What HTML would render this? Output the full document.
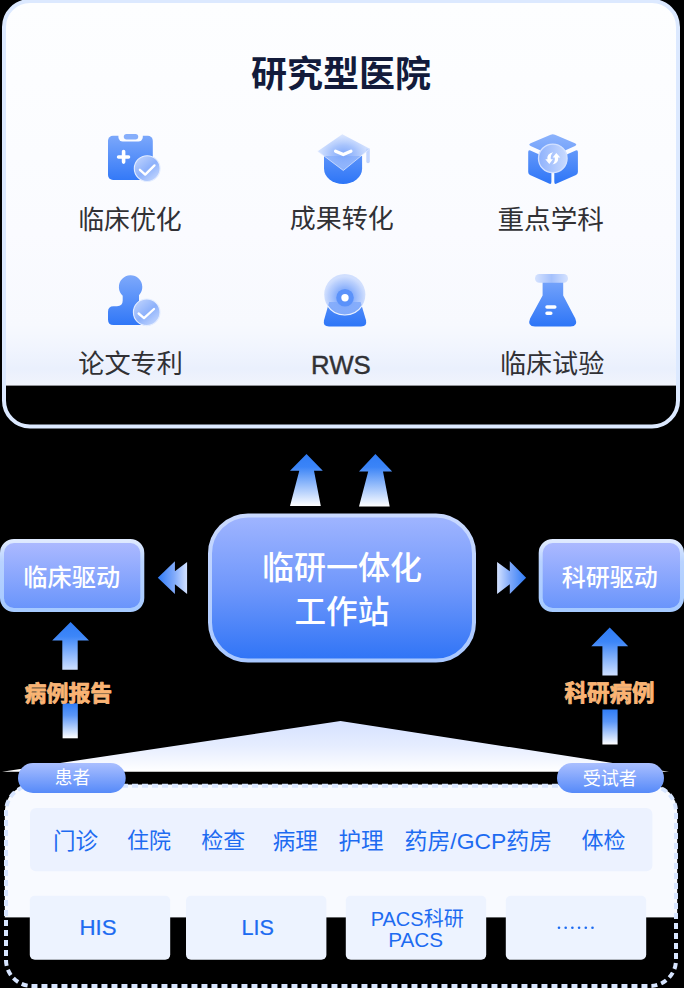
<!DOCTYPE html>
<html lang="zh"><head><meta charset="utf-8"><title>研究型医院 临研一体化工作站</title>
<style>
html,body{margin:0;padding:0;background:#000;}
body{width:684px;height:988px;position:relative;overflow:hidden;font-family:"Liberation Sans",sans-serif;}
svg{position:absolute;left:0;top:0;display:block;}
svg text{font-family:"Liberation Sans","Noto Sans CJK SC",sans-serif;}
.t span{position:absolute;white-space:nowrap;color:transparent;line-height:1;overflow:hidden;}
</style></head><body>
<svg width="684" height="988" viewBox="0 0 684 988"><defs><linearGradient id="pf" gradientUnits="userSpaceOnUse" x1="0" y1="3" x2="0" y2="386"><stop offset="0" stop-color="#fdfeff"/><stop offset="0.6" stop-color="#fafbff"/><stop offset="0.84" stop-color="#f7f9fe"/><stop offset="0.9" stop-color="#f1f5fe"/><stop offset="0.955" stop-color="#eaf0fd"/><stop offset="1" stop-color="#f1f4fc"/></linearGradient><linearGradient id="ib" x1="0" y1="0" x2="0" y2="1"><stop offset="0" stop-color="#7ba7fb"/><stop offset="1" stop-color="#2d75f7"/></linearGradient><linearGradient id="ck" x1="0.15" y1="0.1" x2="0.85" y2="0.95"><stop offset="0" stop-color="#b9cffd"/><stop offset="0.5" stop-color="#8db1fb"/><stop offset="1" stop-color="#c3d6fe"/></linearGradient><linearGradient id="ck2" x1="0" y1="0.5" x2="1" y2="0.5"><stop offset="0" stop-color="#8fb2fc"/><stop offset="1" stop-color="#c9dafe"/></linearGradient><radialGradient id="capg" cx="0.5" cy="0.55" r="0.55"><stop offset="0" stop-color="#7ca6fb" stop-opacity="0.97"/><stop offset="0.45" stop-color="#98b9fc" stop-opacity="0.85"/><stop offset="1" stop-color="#c4d7fe" stop-opacity="0.55"/></radialGradient><radialGradient id="camg" cx="0.5" cy="0.56" r="0.5"><stop offset="0" stop-color="#6e9cfa"/><stop offset="0.45" stop-color="#86adfb" stop-opacity="0.92"/><stop offset="0.8" stop-color="#9dbcfc" stop-opacity="0.7"/><stop offset="1" stop-color="#a9c4fd" stop-opacity="0.5"/></radialGradient><linearGradient id="lid" x1="0" y1="0" x2="1" y2="0"><stop offset="0" stop-color="#d5e2fe"/><stop offset="0.5" stop-color="#a5c1fc"/><stop offset="1" stop-color="#d5e2fe"/></linearGradient><linearGradient id="ib1" gradientUnits="userSpaceOnUse" x1="0" y1="134" x2="0" y2="184"><stop offset="0" stop-color="#7ea9fb"/><stop offset="1" stop-color="#2d75f7"/></linearGradient><linearGradient id="ibt" gradientUnits="userSpaceOnUse" x1="0" y1="134" x2="0" y2="156"><stop offset="0" stop-color="#8db3fc"/><stop offset="1" stop-color="#6f9ffa"/></linearGradient><linearGradient id="ib2" gradientUnits="userSpaceOnUse" x1="0" y1="275" x2="0" y2="327"><stop offset="0" stop-color="#7ea9fb"/><stop offset="1" stop-color="#2d75f7"/></linearGradient><linearGradient id="au" x1="0" y1="0" x2="0" y2="1"><stop offset="0" stop-color="#2f7cf6"/><stop offset="0.25" stop-color="#3b84f7"/><stop offset="1" stop-color="#ffffff"/></linearGradient><linearGradient id="cb" x1="0" y1="0" x2="0" y2="1"><stop offset="0" stop-color="#a0b5ff"/><stop offset="0.5" stop-color="#6f97fb"/><stop offset="1" stop-color="#2f74f6"/></linearGradient><linearGradient id="cbs" x1="0" y1="0" x2="0" y2="1"><stop offset="0" stop-color="#c9d9ff"/><stop offset="1" stop-color="#a9c8ff"/></linearGradient><linearGradient id="sb" x1="0" y1="0" x2="0" y2="1"><stop offset="0" stop-color="#adbaff"/><stop offset="1" stop-color="#6894fb"/></linearGradient><linearGradient id="sbs" x1="0" y1="0" x2="0" y2="1"><stop offset="0" stop-color="#dfeaff"/><stop offset="0.3" stop-color="#b9d3ff"/><stop offset="1" stop-color="#a6caff"/></linearGradient><linearGradient id="al" gradientUnits="userSpaceOnUse" x1="157.8" y1="0" x2="187.1" y2="0"><stop offset="0" stop-color="#2f7bf6"/><stop offset="0.55" stop-color="#7fa9fa"/><stop offset="1" stop-color="#d3e2ff"/></linearGradient><linearGradient id="ar" gradientUnits="userSpaceOnUse" x1="497.1" y1="0" x2="526.1" y2="0"><stop offset="0" stop-color="#d3e2ff"/><stop offset="0.45" stop-color="#7fa9fa"/><stop offset="1" stop-color="#2f7bf6"/></linearGradient><linearGradient id="su" x1="0" y1="0" x2="0" y2="1"><stop offset="0" stop-color="#2f7cf6"/><stop offset="0.3" stop-color="#3d86f8"/><stop offset="1" stop-color="#cfe0ff"/></linearGradient><linearGradient id="sd" x1="0" y1="0" x2="0" y2="1"><stop offset="0" stop-color="#2f7cf6"/><stop offset="0.35" stop-color="#5c97f8"/><stop offset="1" stop-color="#ffffff"/></linearGradient><linearGradient id="py" gradientUnits="userSpaceOnUse" x1="0" y1="721" x2="0" y2="771.7"><stop offset="0" stop-color="#d5e1ff"/><stop offset="0.5" stop-color="#e6edff"/><stop offset="1" stop-color="#ffffff"/></linearGradient><linearGradient id="pl" x1="0" y1="0" x2="0" y2="1"><stop offset="0" stop-color="#aabfff"/><stop offset="1" stop-color="#568af9"/></linearGradient></defs><clipPath id="pc"><rect x="4" y="1" width="674" height="425.5" rx="26"/></clipPath>
<rect x="4" y="1" width="674" height="384.6" fill="url(#pf)" clip-path="url(#pc)"/>
<rect x="4" y="1" width="674" height="425.5" rx="26" fill="none" stroke="#dce9ff" stroke-width="4"/>
<text x="251.12" y="87.12" font-size="36" font-weight="bold" fill="#131b3b">研究型医院</text>
<text x="78.17" y="228.54" font-size="25.9" fill="#313135">临床优化</text>
<text x="289.75" y="228.39" font-size="26" fill="#313135">成果转化</text>
<text x="497.46" y="228.85" font-size="26.6" fill="#313135">重点学科</text>
<text x="78.21" y="372.63" font-size="26.2" fill="#313135">论文专利</text>
<text x="311.08" y="373.50" font-size="25.8" fill="#313135" stroke="#313135" stroke-width="0.4">RWS</text>
<text x="499.95" y="372.62" font-size="26.1" fill="#313135">临床试验</text>
<rect x="108" y="135.8" width="44.8" height="44.2" rx="5" fill="url(#ib1)"/>
<rect x="118.4" y="130" width="24.4" height="11.6" rx="4.5" fill="#fbfcff"/>
<rect x="123.8" y="133.9" width="14.4" height="5.5" rx="2.75" fill="#86aefb"/>
<path d="M118.6 157H128.5M123.6 151.6V162.1" stroke="#fff" stroke-width="3.6" stroke-linecap="round" fill="none"/>
<circle cx="147.2" cy="168.6" r="12.9" fill="url(#ck)" stroke="#e4edff" stroke-width="1.1"/>
<path d="M139.9 169.8L145.2 174.6L154.5 165.4" stroke="#fff" stroke-width="2.3" stroke-linecap="round" stroke-linejoin="round" fill="none"/>
<path d="M324 156H362.1V168.5A19.05 15.5 0 0 1 324 168.5Z" fill="url(#ib1)"/>
<path d="M366.3 148.8H369.8V161.6Q369.8 163.2 368 163.2Q366.3 163.2 366.3 161.6Z" fill="#c4d6fe"/>
<path d="M342.3 134.3L369.8 148.8L343.3 170.5L317.7 151.2Z" fill="url(#capg)"/>
<path d="M317.7 151.2L343.3 170.5L369.8 148.8" fill="none" stroke="#e3ecff" stroke-width="0.9" opacity="0.8"/>
<path d="M335.6 151.2L343.3 154.5L350.9 151.2" stroke="#fff" stroke-width="3.3" stroke-linecap="round" stroke-linejoin="round" fill="none"/>
<path d="M550.6 134.8Q552.8 133.7 555 134.8L575 143.2Q577.6 144.5 575 145.9L555 155Q552.8 156 550.6 155L530.6 145.9Q528 144.5 530.6 143.2Z" fill="url(#ibt)"/>
<path d="M528.2 152Q528.2 149.6 530.4 150.6L551.4 160V182Q551.4 184.6 549 183.6L530 175Q528.2 174 528.2 172Z" fill="url(#ib1)"/>
<path d="M577.9 152Q577.9 149.6 575.7 150.6L554.3 160V182Q554.3 184.6 556.7 183.6L576 175Q577.9 174 577.9 172Z" fill="url(#ib1)"/>
<circle cx="552.8" cy="158.4" r="14.3" fill="url(#ck2)" stroke="#d3e1ff" stroke-width="1.3"/>
<path d="M553.2 151.5Q545.8 153.2 546.9 159.3H544.5L548.9 164.5L553 159.3H550.6Q549.9 155 553.2 151.5Z" fill="#fff" transform="translate(552.8 158.4) scale(0.9) translate(-552.8 -158.4)"/>
<path d="M553.2 151.5Q545.8 153.2 546.9 159.3H544.5L548.9 164.5L553 159.3H550.6Q549.9 155 553.2 151.5Z" fill="#fff" transform="rotate(180 552.8 158.4) translate(552.8 158.4) scale(0.9) translate(-552.8 -158.4)"/>
<path d="M108 311.7Q108 306.2 113.5 306.2H117Q122.7 306.2 122.7 300.5V295.7A11.7 11.7 0 1 1 139 295.2V300.5Q139 306.2 144.7 306.2H147.5Q153 306.2 153 311.7V319.5Q153 325 147.5 325H113.5Q108 325 108 319.5Z" fill="url(#ib2)"/>
<circle cx="146.7" cy="312.3" r="13.3" fill="url(#ck)" stroke="#e4edff" stroke-width="1.1"/>
<path d="M138.6 313.5L144 318.1L154 309" stroke="#fff" stroke-width="2.3" stroke-linecap="round" stroke-linejoin="round" fill="none"/>
<path d="M329.2 302H360.6L366 320.2Q367.3 326.4 361 326.4H329Q322.7 326.4 324 320.2Z" fill="url(#ib2)"/>
<circle cx="344.8" cy="294.6" r="20.6" fill="url(#camg)"/>
<path d="M327.5 305.6A20.6 20.6 0 0 0 362.1 305.6" fill="none" stroke="#e8f0ff" stroke-width="1.1"/>
<circle cx="345" cy="297.7" r="8.8" fill="#5b92fa"/>
<circle cx="345" cy="297.7" r="3.7" fill="#fff"/>
<path d="M542.6 281H563.2V295.5L575.3 318.5Q578.6 326.4 570.5 326.4H535Q526.8 326.4 530.1 318.5L542.6 295.5Z" fill="url(#ib2)"/>
<rect x="535" y="274.1" width="33" height="8.7" rx="4.3" fill="url(#lid)"/>
<path d="M547 307.1H554.8M547 313.2H550.8" stroke="#fff" stroke-width="3.5" stroke-linecap="round" fill="none"/>
<path d="M306.5 454L322.8 470.7H314L320.8 506H290L299.3 470.7H290Z" fill="url(#au)"/>
<path d="M375.4 454L392.2 471.5H383L389.7 506.5H359L368.2 471.5H359Z" fill="url(#au)"/>
<rect x="210" y="515.5" width="264" height="145" rx="38" fill="url(#cb)" stroke="url(#cbs)" stroke-width="4"/>
<text x="261.90" y="578.65" font-size="32" font-weight="500" fill="#fff">临研一体化</text>
<text x="294.49" y="623.43" font-size="31.6" font-weight="500" fill="#fff">工作站</text>
<rect x="2" y="541" width="140.3" height="69" rx="12" fill="url(#sb)" stroke="url(#sbs)" stroke-width="4"/>
<rect x="540.7" y="541" width="141.3" height="69" rx="12" fill="url(#sb)" stroke="url(#sbs)" stroke-width="4"/>
<text x="23.37" y="586.41" font-size="24.2" font-weight="500" fill="#fff">临床驱动</text>
<text x="561.81" y="586.36" font-size="24" font-weight="500" fill="#fff">科研驱动</text>
<path d="M157.8 577.7L174.9 561.3V571.3L187.1 562V594L174.9 584.2V594Z" fill="url(#al)"/>
<path d="M526.1 577.7L509.8 561.3V571.3L497.1 562V594L509.8 584.2V594Z" fill="url(#ar)"/>
<path d="M70.6 622L89 640.4H77.7V669.8H62.3V640.4H52.2Z" fill="url(#su)"/>
<path d="M609.7 627.6L628.2 646.3H617.6V675.6H602.4V646.3H591.3Z" fill="url(#su)"/>
<rect x="62.6" y="703.3" width="15.2" height="35" fill="url(#sd)"/>
<rect x="602.4" y="709.5" width="15.2" height="35" fill="url(#sd)"/>
<text x="24.61" y="700.65" font-size="21.9" font-weight="bold" fill="#fbb372" stroke="#fdc48f" stroke-width="0.75" paint-order="stroke" stroke-linejoin="round">病例报告</text>
<text x="564.55" y="700.82" font-size="22.5" font-weight="bold" fill="#fbb372" stroke="#fdc48f" stroke-width="0.75" paint-order="stroke" stroke-linejoin="round">科研病例</text>
<path d="M340.5 721L669 771.7H2Z" fill="url(#py)"/>
<clipPath id="bc"><rect x="4.8" y="784.6" width="672.4" height="204" rx="27"/></clipPath>
<rect x="4" y="784" width="676" height="133.4" fill="#f8faff" clip-path="url(#bc)"/>
<rect x="6" y="785.7" width="670" height="200.3" rx="26" fill="none" stroke="#d7e5ff" stroke-width="4" stroke-dasharray="6 4"/>
<rect x="30" y="808" width="622.4" height="63.3" rx="6" fill="#ecf2ff"/>
<rect x="29.8" y="895.8" width="140.4" height="64" rx="5" fill="#edf3ff"/>
<rect x="186" y="895.8" width="140.4" height="64" rx="5" fill="#edf3ff"/>
<rect x="345.8" y="895.8" width="140.4" height="64" rx="5" fill="#edf3ff"/>
<rect x="505.8" y="895.8" width="140.4" height="64" rx="5" fill="#edf3ff"/>
<text x="52.99" y="848.58" font-size="22.5" fill="#1d6bf1">门诊</text>
<text x="127.09" y="848.48" font-size="22" fill="#1d6bf1">住院</text>
<text x="201.32" y="848.41" font-size="21.9" fill="#1d6bf1">检查</text>
<text x="272.68" y="848.59" font-size="22.5" fill="#1d6bf1">病理</text>
<text x="338.51" y="848.55" font-size="22.6" fill="#1d6bf1">护理</text>
<text x="404.60" y="848.70" font-size="22.9" fill="#1d6bf1">药房/GCP药房</text>
<text x="581.43" y="848.45" font-size="22" fill="#1d6bf1">体检</text>
<text x="79.48" y="935.45" font-size="22.2" fill="#1d6bf1" stroke="#1d6bf1" stroke-width="0.24">HIS</text>
<text x="241.60" y="935.24" font-size="21.6" fill="#1d6bf1" stroke="#1d6bf1" stroke-width="0.24">LIS</text>
<text x="370.66" y="926.37" font-size="20" fill="#1d6bf1">PACS科研</text>
<text x="388.30" y="947.42" font-size="20.7" fill="#1d6bf1">PACS</text>
<circle cx="559.0" cy="927.7" r="1.3" fill="#1d6bf1"/>
<circle cx="565.7" cy="927.7" r="1.3" fill="#1d6bf1"/>
<circle cx="572.4" cy="927.7" r="1.3" fill="#1d6bf1"/>
<circle cx="579.1" cy="927.7" r="1.3" fill="#1d6bf1"/>
<circle cx="585.8" cy="927.7" r="1.3" fill="#1d6bf1"/>
<circle cx="592.5" cy="927.7" r="1.3" fill="#1d6bf1"/>
<rect x="18" y="763" width="107.7" height="30" rx="15" fill="url(#pl)"/>
<rect x="557" y="763" width="107" height="30" rx="15" fill="url(#pl)"/>
<text x="54.82" y="784.31" font-size="17.7" fill="#fff">患者</text>
<text x="582.65" y="784.52" font-size="18.1" fill="#fff">受试者</text></svg>
<div class="t"><span style="left:251.1px;top:55.5px;font-size:36.0px;width:181.8px">研究型医院</span><span style="left:78.2px;top:205.7px;font-size:25.9px;width:105.6px">临床优化</span><span style="left:289.7px;top:205.5px;font-size:26.0px;width:106.0px">成果转化</span><span style="left:497.5px;top:205.4px;font-size:26.6px;width:108.4px">重点学科</span><span style="left:78.2px;top:349.6px;font-size:26.2px;width:106.9px">论文专利</span><span style="left:311.1px;top:350.8px;font-size:25.8px;width:62.3px">RWS</span><span style="left:500.0px;top:349.7px;font-size:26.1px;width:106.3px">临床试验</span><span style="left:261.9px;top:550.5px;font-size:32.0px;width:162.1px">临研一体化</span><span style="left:294.5px;top:595.6px;font-size:31.6px;width:96.8px">工作站</span><span style="left:23.4px;top:565.1px;font-size:24.2px;width:99.0px">临床驱动</span><span style="left:561.8px;top:565.2px;font-size:24.0px;width:97.9px">科研驱动</span><span style="left:24.6px;top:681.4px;font-size:21.9px;width:89.6px">病例报告</span><span style="left:564.6px;top:681.1px;font-size:22.5px;width:91.9px">科研病例</span><span style="left:53.0px;top:828.8px;font-size:22.5px;width:47.0px">门诊</span><span style="left:127.1px;top:829.1px;font-size:22.0px;width:46.1px">住院</span><span style="left:201.3px;top:829.2px;font-size:21.9px;width:45.7px">检查</span><span style="left:272.7px;top:828.8px;font-size:22.5px;width:47.0px">病理</span><span style="left:338.5px;top:828.7px;font-size:22.6px;width:47.2px">护理</span><span style="left:404.6px;top:828.6px;font-size:22.9px;width:149.5px">药房/GCP药房</span><span style="left:581.4px;top:829.1px;font-size:22.0px;width:45.9px">体检</span><span style="left:79.5px;top:915.9px;font-size:22.2px;width:39.0px">HIS</span><span style="left:241.6px;top:916.2px;font-size:21.6px;width:34.4px">LIS</span><span style="left:370.7px;top:908.7px;font-size:20.0px;width:96.6px">PACS科研</span><span style="left:388.3px;top:929.2px;font-size:20.7px;width:58.3px">PACS</span><span style="left:54.8px;top:768.8px;font-size:17.7px;width:37.3px">患者</span><span style="left:582.6px;top:768.6px;font-size:18.1px;width:56.3px">受试者</span></div>
</body></html>
